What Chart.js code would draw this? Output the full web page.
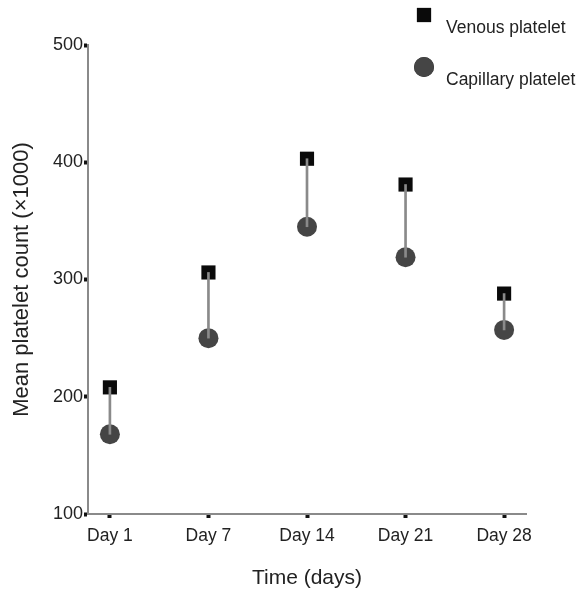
<!DOCTYPE html>
<html>
<head>
<meta charset="utf-8">
<script src="https://cdn.jsdelivr.net/npm/chart.js@4.4.1/dist/chart.umd.min.js"></script>
<style>
  body { margin: 0; background: #fff; }
  #wrap { width: 585px; height: 593px; }
</style>
</head>
<body>
<div id="wrap"><canvas id="chart" width="585" height="593"></canvas></div>
<script>
// data
const days = ['Day 1', 'Day 7', 'Day 14', 'Day 21', 'Day 28'];
const venous = [208, 306, 403, 381, 288];
const capillary = [168, 250, 345, 319, 257];
const yTicks = [100, 200, 300, 400, 500];

const FONT = '"Liberation Sans", Arial, sans-serif';

const pos = days.map((d, i) => i + 1);

// legend drawn in the top right corner, same markers as the datasets
const cornerLegend = {
    id: 'cornerLegend',
    afterDraw(chart) {
        const ctx = chart.ctx;
        const items = [
            { label: 'Venous platelet', ds: chart.data.datasets[1], mx: 424, my: 15, ty: 28 },
            { label: 'Capillary platelet', ds: chart.data.datasets[2], mx: 424, my: 67, ty: 80 }
        ];
        ctx.save();
        items.forEach(it => {
            Chart.helpers.drawPoint(ctx, {
                pointStyle: it.ds.pointStyle,
                radius: it.ds.pointRadius,
                borderWidth: 0
            }, it.mx, it.my);
            ctx.fillStyle = it.ds.backgroundColor;
            ctx.fill();
            ctx.fillStyle = '#222';
            ctx.font = '17.5px ' + FONT;
            ctx.textBaseline = 'middle';
            ctx.fillText(it.label, 446, it.ty);
        });
        ctx.restore();
    }
};

new Chart(document.getElementById('chart'), {
    type: 'scatter',
    data: {
        datasets: [
            {
                type: 'bar',
                label: 'range',
                data: pos.map((x, i) => ({ x: x, y: [capillary[i], venous[i]] })),
                backgroundColor: '#8a8a8a',
                barThickness: 2,
                order: 0
            },
            {
                label: 'Venous platelet',
                data: pos.map((x, i) => ({ x: x, y: venous[i] })),
                pointStyle: 'rect',
                pointRadius: 10,
                pointHoverRadius: 10,
                backgroundColor: '#0a0a0a',
                borderWidth: 0,
                order: 1
            },
            {
                label: 'Capillary platelet',
                data: pos.map((x, i) => ({ x: x, y: capillary[i] })),
                pointStyle: 'circle',
                pointRadius: 10,
                pointHoverRadius: 10,
                backgroundColor: '#454545',
                borderWidth: 0,
                order: 1
            }
        ]
    },
    options: {
        responsive: false,
        animation: false,
        layout: { padding: { top: 45, right: 59, left: 0, bottom: 0 } },
        plugins: {
            legend: { display: false },
            tooltip: { enabled: false }
        },
        scales: {
            x: {
                type: 'linear',
                offset: false,
                min: 1 - 22 / 99,
                max: 5 + 22 / 99,
                afterBuildTicks: s => { s.ticks = pos.map(v => ({ value: v })); },
                afterFit: s => { s.height = 79; },
                border: { color: '#8a8a8a', width: 2 },
                grid: { offset: false, drawOnChartArea: false, tickLength: 4, tickWidth: 4, tickColor: '#111' },
                ticks: {
                    callback: v => days[v - 1],
                    color: '#222',
                    font: { family: FONT, size: 17.5 },
                    padding: 8,
                    maxRotation: 0
                },
                title: {
                    display: true,
                    text: 'Time (days)',
                    color: '#222',
                    font: { family: FONT, size: 21 },
                    padding: { top: 0, bottom: 2 }
                }
            },
            y: {
                min: 100,
                max: 500,
                afterBuildTicks: s => { s.ticks = yTicks.map(v => ({ value: v })); },
                afterFit: s => { s.width = 88; },
                border: { color: '#8a8a8a', width: 2 },
                grid: { drawOnChartArea: false, tickLength: 4, tickWidth: 4, tickColor: '#111' },
                ticks: {
                    color: '#222',
                    font: { family: FONT, size: 18 },
                    padding: 1
                },
                title: {
                    display: true,
                    text: 'Mean platelet count (\u00d71000)',
                    color: '#222',
                    font: { family: FONT, size: 22 },
                    padding: { top: 9, bottom: 0 }
                }
            }
        }
    },
    plugins: [cornerLegend]
});
</script>
</body>
</html>
